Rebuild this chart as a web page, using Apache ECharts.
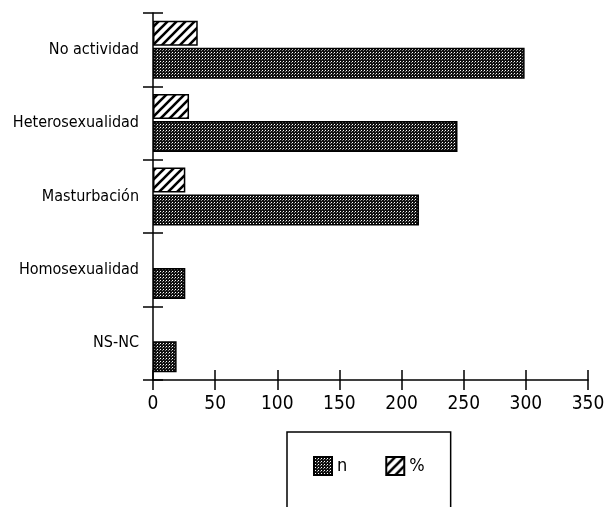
<!DOCTYPE html>
<html>
<head>
<meta charset="utf-8">
<script src="https://cdn.jsdelivr.net/npm/echarts@6/dist/echarts.min.js"></script>
<style>html,body{margin:0;padding:0;background:#fff}#c{width:616px;height:507px}</style>
</head>
<body>
<div id="c"></div>
<script>
const categories = ['No actividad', 'Heterosexualidad', 'Masturbación', 'Homosexualidad', 'NS-NC'];
const nValues = [299, 245, 214, 26, 19];
const pctValues = [36, 29, 26, null, null];
const xTicks = [0, 50, 100, 150, 200, 250, 300, 350];

function makeDots() {
  const c = document.createElement('canvas');
  c.width = 3; c.height = 3;
  const g = c.getContext('2d');
  g.fillStyle = '#111'; g.fillRect(0, 0, 3, 3);
  g.fillStyle = '#fff'; g.fillRect(1, 1, 1, 1);
  g.fillStyle = '#888'; g.fillRect(0, 2, 1, 1);
  return c;
}
function makeStripes() {
  const s = 9;
  const c = document.createElement('canvas');
  c.width = s; c.height = s;
  const g = c.getContext('2d');
  g.fillStyle = '#fff'; g.fillRect(0, 0, s, s);
  g.strokeStyle = '#000'; g.lineWidth = 2.6;
  g.beginPath();
  g.moveTo(-1, 1); g.lineTo(1, -1);
  g.moveTo(0, s); g.lineTo(s, 0);
  g.moveTo(s - 1, s + 1); g.lineTo(s + 1, s - 1);
  g.stroke();
  return c;
}

const font = '"DejaVu Sans Condensed", "Liberation Sans", Arial, sans-serif';
const chart = echarts.init(document.getElementById('c'), null, {renderer: 'canvas'});
chart.setOption({
  backgroundColor: '#fff',
  animation: false,
  grid: {left: 153, right: 28, top: 13, bottom: 127, containLabel: false, outerBoundsMode: 'none'},
  legend: {
    data: ['n', '%'],
    left: 287, top: 432,
    padding: [24, 26, 40, 26],
    itemGap: 38,
    itemWidth: 18, itemHeight: 18,
    icon: 'rect',
    borderColor: '#000', borderWidth: 1.5,
    textStyle: {fontFamily: font, fontSize: 18, color: '#000'}
  },
  xAxis: [{
    type: 'value', min: 0, max: 350, interval: 50,
    axisLine: {show: true, lineStyle: {color: '#000', width: 1.5}},
    axisTick: {show: true, length: 10, lineStyle: {color: '#000', width: 1.5}},
    splitLine: {show: false},
    axisLabel: {margin: 15, color: '#000', fontFamily: font, fontSize: 19,
      formatter: v => xTicks.includes(v) ? String(v) : ''}
  }, {
    type: 'value', min: 0, max: 350, interval: 50, position: 'bottom',
    axisLine: {show: false},
    axisTick: {show: true, inside: true, length: 10, lineStyle: {color: '#000', width: 1.5}},
    splitLine: {show: false}, axisLabel: {show: false}
  }],
  yAxis: [{
    type: 'category', data: categories, inverse: true,
    axisLine: {show: true, lineStyle: {color: '#000', width: 1.5}},
    axisTick: {show: true, length: 10, lineStyle: {color: '#000', width: 1.5}},
    axisLabel: {margin: 14, color: '#000', fontFamily: font, fontSize: 16}
  }, {
    type: 'category', data: categories, inverse: true, position: 'left',
    axisLine: {show: false},
    axisTick: {show: true, inside: true, length: 10, lineStyle: {color: '#000', width: 1.5}},
    axisLabel: {show: false}
  }],
  series: [{
    name: '%', type: 'bar', data: pctValues, barWidth: 25, barGap: '8%',
    itemStyle: {color: {image: makeStripes(), repeat: 'repeat'}, borderColor: '#000', borderWidth: 1.5}
  }, {
    name: 'n', type: 'bar', data: nValues, barWidth: 31, barGap: '8%',
    itemStyle: {color: {image: makeDots(), repeat: 'repeat'}, borderColor: '#000', borderWidth: 1.5}
  }]
});
</script>
</body>
</html>
